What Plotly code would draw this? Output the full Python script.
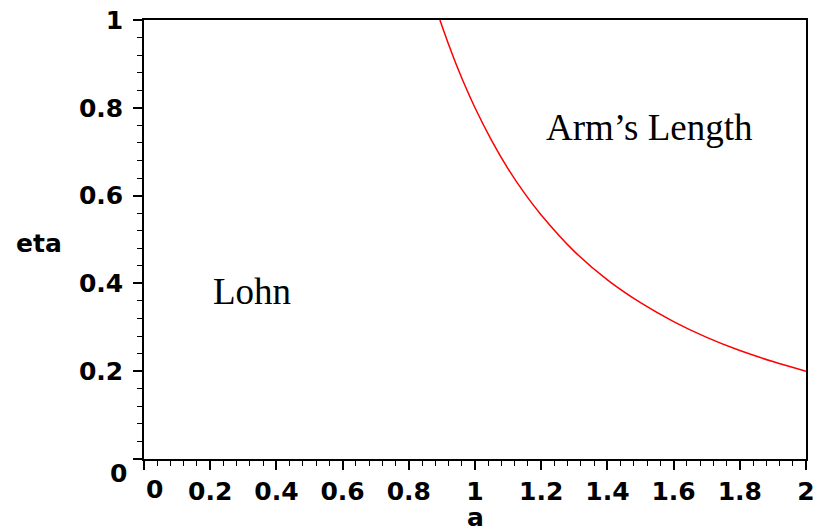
import plotly.graph_objects as go

# Boundary curve
a_vals = [0.894, 0.92, 0.95, 1.0, 1.05, 1.1, 1.15, 1.2, 1.3, 1.4, 1.5, 1.6, 1.7, 1.8, 1.9, 2.0]
eta_vals = [1.0, 0.945, 0.886, 0.80, 0.726, 0.661, 0.605, 0.556, 0.473, 0.408, 0.356, 0.313, 0.277, 0.247, 0.222, 0.20]

x_ticks = [0, 0.2, 0.4, 0.6, 0.8, 1, 1.2, 1.4, 1.6, 1.8, 2]
x_ticktext = ["", "0.2", "0.4", "0.6", "0.8", "1", "1.2", "1.4", "1.6", "1.8", "2"]
y_ticks = [0, 0.2, 0.4, 0.6, 0.8, 1]
y_ticktext = ["", "0.2", "0.4", "0.6", "0.8", "1"]

region_labels = ["Lohn", "Arm\u2019s Length"]
region_x = [0.325, 1.526]
region_y = [0.381, 0.754]

tickfont = dict(family="DejaVu Sans", size=25, color="black", weight=700)

fig = go.Figure()
fig.add_trace(go.Scatter(x=a_vals, y=eta_vals, mode="lines",
                         line=dict(color="red", width=1.5, shape="spline"),
                         showlegend=False, hoverinfo="skip"))

axis_common = dict(showline=True, linecolor="black", linewidth=1.5, mirror=True,
                   showgrid=False, zeroline=False, ticks="outside", ticklen=9,
                   tickwidth=1.5, tickcolor="black", tickfont=tickfont, automargin=False,
                   minor=dict(ticks="outside", ticklen=5, tickwidth=1.2,
                              tickcolor="black", dtick=0.04, showgrid=False))

fig.update_xaxes(range=[0, 2], tickvals=x_ticks, ticktext=x_ticktext, **axis_common)
fig.update_yaxes(range=[0, 1], tickvals=y_ticks, ticktext=y_ticktext,
                 ticklabelstandoff=5, **axis_common)

for t, x, y in zip(region_labels, region_x, region_y):
    fig.add_annotation(x=x, y=y, text=t, showarrow=False, xanchor="center", yanchor="middle",
                       font=dict(family="Liberation Serif", size=37, color="black"))

# zero labels (offset as in the original) and axis titles
fig.add_annotation(x=0, y=0, xref="x", yref="y", text="0", showarrow=False,
                   xanchor="center", yanchor="top", xshift=10, yshift=-14, font=tickfont)
fig.add_annotation(x=0, y=0, xref="x", yref="y", text="0", showarrow=False,
                   xanchor="right", yanchor="middle", xshift=-15, yshift=-14, font=tickfont)
fig.add_annotation(x=1, y=0, xref="x", yref="y", text="a", showarrow=False,
                   xanchor="center", yanchor="top", yshift=-42, font=tickfont)
fig.add_annotation(x=0, y=0.5, xref="x", yref="y", text="eta", showarrow=False,
                   xanchor="right", yanchor="middle", xshift=-80, yshift=-4,
                   font=dict(family="DejaVu Sans", size=25, color="black", weight=700))

fig.update_layout(width=819, height=531, margin=dict(l=144, r=13, t=20, b=72),
                  plot_bgcolor="white", paper_bgcolor="white")

fig.write_html("out.html", config={"displayModeBar": False},
               post_script="document.body.style.margin='0';document.body.style.overflow='hidden';")
